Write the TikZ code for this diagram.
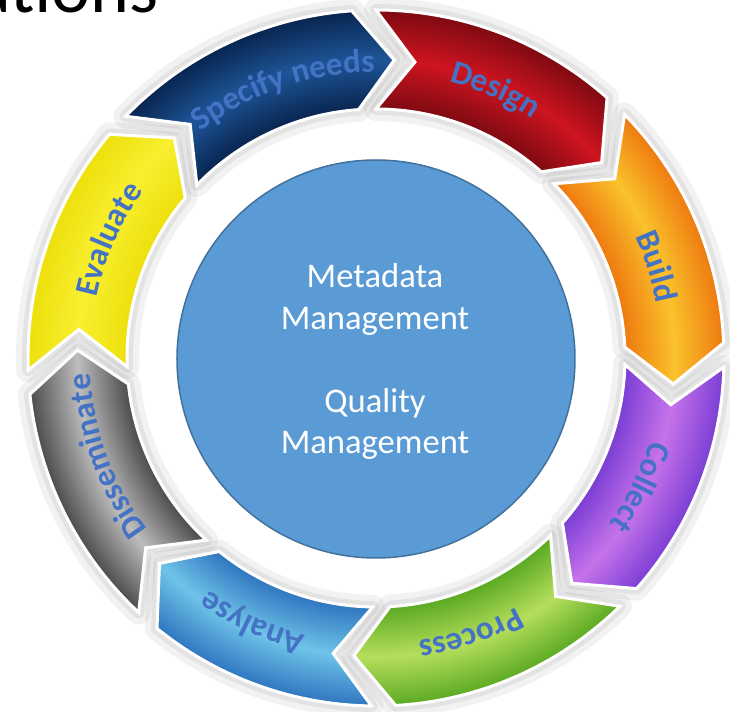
\documentclass[tikz,border=0pt]{standalone}
\usepackage{fontspec}
\setmainfont{Carlito}
\usetikzlibrary{decorations.text}

\definecolor{specE}{HTML}{08254F}
\definecolor{specM}{HTML}{1E5598}
\definecolor{desE}{HTML}{7E0A12}
\definecolor{desM}{HTML}{CE141F}
\definecolor{bldE}{HTML}{EE7A10}
\definecolor{bldM}{HTML}{FAC22C}
\definecolor{colE}{HTML}{7B3ED4}
\definecolor{colM}{HTML}{C673EA}
\definecolor{proE}{HTML}{5BAA22}
\definecolor{proM}{HTML}{B6DE5C}
\definecolor{anaE}{HTML}{2F76C0}
\definecolor{anaM}{HTML}{6FC3E8}
\definecolor{disE}{HTML}{4C4C4C}
\definecolor{disM}{HTML}{BDBDBD}
\definecolor{evaE}{HTML}{EEE00C}
\definecolor{evaM}{HTML}{F8EF30}
\definecolor{lbl}{HTML}{4472C4}
\definecolor{core}{HTML}{5B9BD5}
\definecolor{coreline}{HTML}{41719C}

\newcommand\mkringshade[3]{\pgfdeclareradialshading{#1}{\pgfpoint{0bp}{0bp}}{color(0bp)=(#2); color(17.9bp)=(#2); color(21.45bp)=(#3); color(25bp)=(#2); color(50bp)=(#2)}}
\mkringshade{shSpec}{specE}{specM}
\mkringshade{shDes}{desE}{desM}
\mkringshade{shBld}{bldE}{bldM}
\mkringshade{shCol}{colE}{colM}
\mkringshade{shPro}{proE}{proM}
\mkringshade{shAna}{anaE}{anaM}
\mkringshade{shDis}{disE}{disM}
\mkringshade{shEva}{evaE}{evaM}

\newcommand\lblfont{\fontsize{16.5}{18}\selectfont\bfseries\color{lbl}}

\newcommand\ringpart[3]{%
  \begin{scope}
    \clip[seg={#1}{#2}];
    \shade[shading=#3] (0,0) circle (348);
  \end{scope}
}
\newcommand\ringshadow[2]{%
  \draw[seg={#1}{#2}, line width=12pt, draw=black, opacity=0.05, line join=round];
  \draw[seg={#1}{#2}, line width=6pt, draw=black, opacity=0.06, line join=round];
}
\newcommand\ringborder[2]{%
  \draw[seg={#1}{#2}, line width=1.5pt, draw=white, line join=miter];
}
\newcommand\arclabel[2]{%
  \path[decorate, decoration={text along path, text={|\lblfont|#2}, text align=center}]
    ({#1+30}:286) arc[start angle={#1+30}, end angle={#1-30}, radius=286];
}

\begin{document}
\begin{tikzpicture}[x=0.5pt, y=0.5pt,
  seg/.style n args={2}{insert path={
    ({#1-2}:348) arc[start angle={#1-2}, end angle={#2+2}, radius=348]
    -- ({#2-5.5}:298.5) -- ({#2+2}:249)
    arc[start angle={#2+2}, end angle={#1-2}, radius=249]
    -- ({#1-9.5}:298.5) -- cycle}}]
\useasboundingbox (-376,-354) rectangle (354,358);
\fill[white] (-376,-354) rectangle (354,358);

% shadows
\ringshadow{138}{92}
\ringshadow{92}{46.4}
\ringshadow{46.4}{0.5}
\ringshadow{0.5}{-43.5}
\ringshadow{-43.5}{-88.75}
\ringshadow{271.25}{229}
\ringshadow{229}{184}
\ringshadow{184}{138}

% segments
\ringpart{138}{92}{shSpec}
\ringpart{92}{46.4}{shDes}
\ringpart{46.4}{0.5}{shBld}
\ringpart{0.5}{-43.5}{shCol}
\ringpart{-43.5}{-88.75}{shPro}
\ringpart{271.25}{229}{shAna}
\ringpart{229}{184}{shDis}
\ringpart{184}{138}{shEva}

% borders
\ringborder{138}{92}
\ringborder{92}{46.4}
\ringborder{46.4}{0.5}
\ringborder{0.5}{-43.5}
\ringborder{-43.5}{-88.75}
\ringborder{271.25}{229}
\ringborder{229}{184}
\ringborder{184}{138}

% labels
\arclabel{109}{Specify needs}
\arclabel{66}{Design}
\arclabel{18}{Build}
\arclabel{-26}{Collect}
\arclabel{-71}{Process}
\arclabel{-115}{Analyse}
\arclabel{200}{Disseminate}
\arclabel{156}{Evaluate}

% centre
\draw[fill=core, draw=coreline, line width=0.75pt] (0,-1) circle (199);
\begin{scope}[every node/.style={anchor=base, inner sep=0, text=white, font=\fontsize{17.3}{20}\selectfont}]
\node (m1) at (-1,70) {Metadata};
\node (m2) at (-1,28.5) {Management};
\node (q1) at (-1,-54.5) {Quality};
\node (q2) at (-1,-96) {Management};
\end{scope}

% title fragment
\node[anchor=base east, inner sep=0, font=\fontsize{37}{40}\selectfont] (title) at (-217,345.5) {ations};
\end{tikzpicture}
\end{document}
